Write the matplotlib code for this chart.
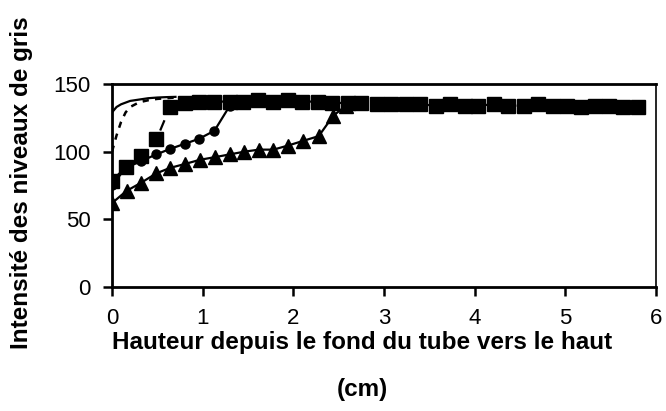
import matplotlib
matplotlib.use("Agg")
import matplotlib.pyplot as plt

plt.rcParams['font.family'] = ['Liberation Sans', 'DejaVu Sans']

# Solid curve (no markers)
solid_x = [0, 0.05, 0.1, 0.2, 0.3, 0.4, 0.5, 0.6, 0.7]
solid_y = [129, 133, 135, 137.5, 138.5, 139.5, 140, 140.3, 140.5]

# Short-dashed curve (no markers)
dash_x = [0, 0.05, 0.1, 0.15, 0.2, 0.3, 0.4, 0.5, 0.6, 0.7]
dash_y = [100, 112, 122, 129, 133, 136.5, 138, 139, 139.5, 140]

# Squares series (dashed line)
sq_x = [0.0, 0.15, 0.32, 0.49, 0.64, 0.81, 0.96, 1.13, 1.30, 1.45, 1.61, 1.78, 1.94,
        2.10, 2.27, 2.43, 2.60, 2.75, 2.92, 3.08, 3.24, 3.40, 3.57, 3.73, 3.89, 4.04,
        4.21, 4.37, 4.54, 4.70, 4.86, 5.02, 5.17, 5.33, 5.48, 5.64, 5.80]
sq_y = [78, 89, 97, 109, 133, 136, 137, 137, 137, 137, 138, 137, 138,
        137, 137, 136, 136, 136, 135, 135, 135, 135, 134, 135, 134, 134,
        135, 134, 134, 135, 134, 134, 133, 134, 134, 133, 133]

# Circles series
ci_x = [0, 0.15, 0.32, 0.49, 0.64, 0.81, 0.96, 1.13, 1.30]
ci_y = [75, 88, 93, 98, 102, 106, 109.5, 115.5, 134]

# Triangles series
tr_x = [0, 0.16, 0.32, 0.49, 0.64, 0.81, 0.97, 1.14, 1.30, 1.46, 1.62, 1.78, 1.94,
        2.11, 2.28, 2.44, 2.58]
tr_y = [62, 71, 77, 84, 88, 91, 94, 96, 98, 100, 101.5, 101.5, 104.5,
        108, 111.5, 126.5, 134]

x_ticks = [0, 1, 2, 3, 4, 5, 6]
y_ticks = [0, 50, 100, 150]

fig = plt.figure(figsize=(6.66, 4.11), dpi=100)
ax = fig.add_axes([112/666, 1-287/411, (656-112)/666, (287-84)/411])

ax.plot(tr_x, tr_y, color='black', lw=1.6, marker='^', ms=10, zorder=3)
ax.plot(ci_x, ci_y, color='black', lw=1.6, marker='o', ms=6.5, zorder=3)
ax.plot(sq_x, sq_y, color='black', lw=1.6, ls=(0, (5, 3)), marker='s', ms=9.5, zorder=4)
ax.plot(dash_x, dash_y, color='black', lw=1.8, ls=(0, (2.5, 2.5)), zorder=5)
ax.plot(solid_x, solid_y, color='black', lw=1.6, zorder=5)

ax.set_xlim(0, 6)
ax.set_ylim(0, 150)
ax.set_xticks(x_ticks)
ax.set_yticks(y_ticks)
ax.tick_params(axis='both', labelsize=16, width=1.8, length=6.5, direction='out')
ax.tick_params(axis='x', pad=8.5)
ax.tick_params(axis='y', pad=9)
for s in ['left', 'bottom', 'top']:
    ax.spines[s].set_linewidth(2)
ax.spines['right'].set_linewidth(1.2)

fig.text(362/666, 1-349/411, 'Hauteur depuis le fond du tube vers le haut',
         ha='center', va='baseline', fontsize=17.5, fontweight='bold')
fig.text(362/666, 1-396/411, '(cm)', ha='center', va='baseline', fontsize=17.5,
         fontweight='bold')
fig.text(22/666, 1-183/411, 'Intensité des niveaux de gris', rotation=90,
         ha='center', va='center', fontsize=17.5, fontweight='bold')

fig.savefig('out.png', dpi=100)
